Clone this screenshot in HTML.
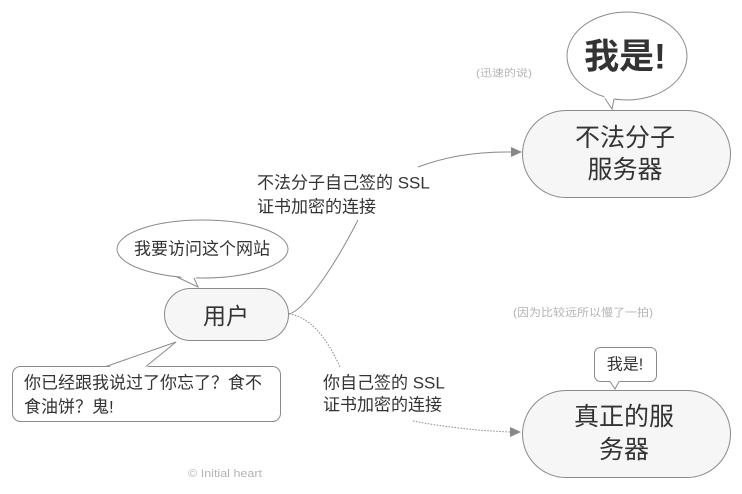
<!DOCTYPE html>
<html>
<head>
<meta charset="utf-8">
<style>
html,body{margin:0;padding:0;background:#fff;}
svg{display:block;}
text{font-family:"Liberation Sans","Noto Sans CJK SC",sans-serif;fill:#333;}
.g{fill:#b4b4b4;}
</style>
</head>
<body>
<svg width="742" height="494" viewBox="0 0 742 494" xmlns="http://www.w3.org/2000/svg">
  <!-- connectors -->
  <path d="M289 314 C305 310 335 265 358 220" fill="none" stroke="#8a8a8a" stroke-width="1"/>
  <path d="M418 167 Q460 151 512 152" fill="none" stroke="#8a8a8a" stroke-width="1"/>
  <polygon points="522,152 511,147 511,157" fill="#888"/>
  <path d="M289 314 Q318 318 340 367" fill="none" stroke="#8a8a8a" stroke-width="1" stroke-dasharray="1.5 1.5"/>
  <path d="M413 421 Q460 430 511 432" fill="none" stroke="#8a8a8a" stroke-width="1" stroke-dasharray="1.5 1.5"/>
  <polygon points="521,432 510,427 510,437" fill="#888"/>

  <!-- user speech ellipse -->
  <ellipse cx="202.5" cy="249" rx="85.5" ry="29" fill="#fff" stroke="#8a8a8a"/>
  <polygon points="176,274 198,287 195,274" fill="#fff"/>
  <polyline points="177,277 198,287 194,278" fill="none" stroke="#8a8a8a"/>
  <text x="202" y="249" font-size="17" text-anchor="middle" dominant-baseline="central">我要访问这个网站</text>

  <!-- bottom-left rect bubble -->
  <rect x="12.5" y="366.5" width="268" height="55" rx="8" fill="#fff" stroke="#8a8a8a"/>
  <polygon points="106,368 176,342 146,368" fill="#fff"/>
  <polyline points="106,366.5 176,342 146,366.5" fill="none" stroke="#8a8a8a"/>
  <text x="24" y="383" font-size="17" dominant-baseline="central">你已经跟我说过了你忘了？食不</text>
  <text x="24" y="407" font-size="17" dominant-baseline="central">食油饼？鬼!</text>

  <!-- user node -->
  <rect x="164.5" y="288.5" width="124" height="52" rx="26" fill="#f6f6f6" stroke="#8a8a8a"/>
  <text x="226" y="316" font-size="23" text-anchor="middle" dominant-baseline="central">用户</text>

  <!-- labels -->
  <text x="257" y="183" font-size="17" dominant-baseline="central">不法分子自己签的 SSL</text>
  <text x="257" y="207" font-size="17" dominant-baseline="central">证书加密的连接</text>
  <text x="323" y="383" font-size="17" dominant-baseline="central">你自己签的 SSL</text>
  <text x="323" y="405" font-size="17" dominant-baseline="central">证书加密的连接</text>

  <!-- annotations -->
  <text class="g" x="476" y="74" font-size="10" textLength="56" lengthAdjust="spacingAndGlyphs" dominant-baseline="central">(迅速的说)</text>
  <text class="g" x="513" y="313" font-size="11" textLength="140" lengthAdjust="spacingAndGlyphs" dominant-baseline="central">(因为比较远所以慢了一拍)</text>
  <text class="g" x="188" y="474" font-size="11" textLength="74" lengthAdjust="spacingAndGlyphs" dominant-baseline="central">© Initial heart</text>

  <!-- top speech bubble -->
  <ellipse cx="627" cy="56" rx="60" ry="44" fill="#fff" stroke="#8a8a8a"/>
  <polygon points="604,96 612,109 615,96" fill="#fff"/>
  <polyline points="605,98.5 612,109 614,99" fill="none" stroke="#8a8a8a"/>
  <text x="625" y="57" font-size="35" font-weight="bold" text-anchor="middle" dominant-baseline="central">我是!</text>

  <!-- server 1 -->
  <rect x="522.5" y="110.5" width="208" height="87" rx="43.5" fill="#f6f6f6" stroke="#8a8a8a"/>
  <text x="625" y="138" font-size="25" text-anchor="middle" dominant-baseline="central">不法分子</text>
  <text x="625" y="170" font-size="25" text-anchor="middle" dominant-baseline="central">服务器</text>

  <!-- small bubble -->
  <rect x="594.5" y="347.5" width="62" height="34" rx="6" fill="#fff" stroke="#8a8a8a"/>
  <polygon points="609,380 615,389 620,380" fill="#fff"/>
  <polyline points="610,381.5 615,389 619,381.5" fill="none" stroke="#8a8a8a"/>
  <text x="625" y="365" font-size="16" text-anchor="middle" dominant-baseline="central">我是!</text>

  <!-- server 2 -->
  <rect x="522.5" y="390.5" width="208" height="87" rx="43.5" fill="#f6f6f6" stroke="#8a8a8a"/>
  <text x="624" y="417" font-size="25" text-anchor="middle" dominant-baseline="central">真正的服</text>
  <text x="624" y="450" font-size="25" text-anchor="middle" dominant-baseline="central">务器</text>
</svg>
</body>
</html>
